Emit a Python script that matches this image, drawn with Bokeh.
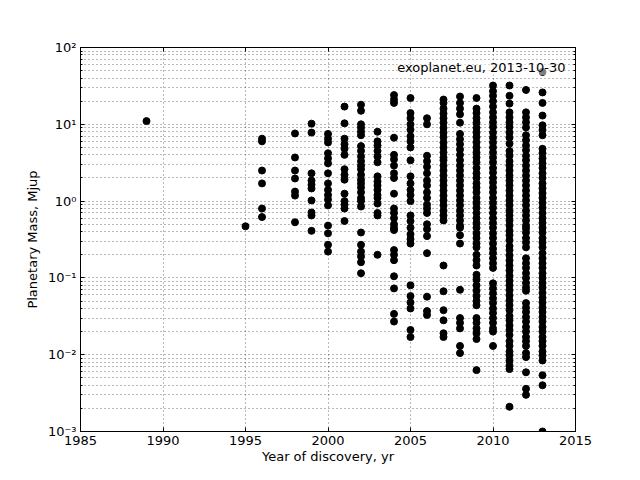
from bokeh.plotting import figure
from bokeh.models import Range1d, FixedTicker, LinearAxis, LogAxis, CustomJSTickFormatter, Label
from bokeh.embed import file_html
from bokeh.resources import INLINE

# --- data: planetary mass (Mjup) per discovery year ---
m1989 = [11]
m1995 = [0.47]
m1996 = [6.5, 6.0, 2.5, 1.7, 0.8, 0.62]
m1998 = [7.6, 3.7, 2.5, 1.97, 1.33, 1.18, 0.53]
m1999 = [10.2, 7.8, 2.3, 1.85, 1.64, 1.46, 1.02, 0.71, 0.65, 0.41]
m2000 = [7.5, 6.5, 5.8, 4.2, 3.6, 3.1, 2.3, 1.7, 1.4, 1.2, 1.05, 0.88, 0.48, 0.38, 0.27, 0.22]
m2001 = [17, 10.3, 6.5, 5.5, 4.8, 4.0, 2.6, 2.2, 1.9, 1.25, 1.0, 0.9, 0.8, 0.55]
m2002 = [18, 15, 10, 9, 8, 7.2, 5.2, 4.5, 3.8, 3.3, 2.9, 2.6, 2.2, 1.9, 1.7, 1.5, 1.3, 1.1, 1.0,
         0.85, 0.39, 0.27, 0.22, 0.19, 0.16, 0.115]
m2003 = [8, 6, 5.3, 4.5, 3.8, 3.2, 2.1, 1.8, 1.6, 1.4, 1.2, 1.1, 0.93, 0.7, 0.65, 0.2]
m2004 = [24, 21, 19, 6.7, 4.0, 3.5, 2.9, 2.3, 2.0, 1.25, 0.8, 0.7, 0.6, 0.5, 0.45, 0.42,
         0.23, 0.2, 0.17, 0.105, 0.073, 0.034, 0.027]
m2005 = [22, 14, 12, 10, 8.5, 7, 6, 5, 3.4, 2.1, 1.7, 1.4, 1.2, 1.0, 0.65, 0.55, 0.45, 0.37,
         0.32, 0.28, 0.08, 0.058, 0.048, 0.04, 0.021, 0.017]
m2006 = [12, 10, 3.9, 3.3, 2.8, 2.3, 1.85, 1.6, 1.3, 1.1, 0.9, 0.8, 0.7, 0.5, 0.43, 0.35,
         0.21, 0.057, 0.037, 0.033]
m2007 = [21, 19, 16, 13.8, 12, 10.5, 9, 7.8, 6.8, 5.8, 5, 4.3, 3.7, 3.4, 2.9, 2.5, 2.15,
         1.85, 1.6, 1.37, 1.18, 1.02, 0.88, 0.75, 0.65, 0.56, 0.145, 0.067, 0.038, 0.028,
         0.019, 0.017]
m2008 = [23, 19, 16, 13.5, 10.5, 7.5, 6.4, 5.5, 4.7, 4.0, 3.4, 2.9, 2.5, 2.15, 1.85, 1.6,
         1.37, 1.18, 1.02, 0.88, 0.75, 0.65, 0.56, 0.48, 0.45, 0.36, 0.28, 0.07, 0.03, 0.026,
         0.022, 0.013, 0.0105]
m2009 = [22, 16, 14, 12, 10.5, 9, 7.8, 6.8, 5.8, 5, 4.3, 3.7, 3.2, 2.7, 2.3, 2.0, 1.7, 1.5,
         1.3, 1.1, 0.95, 0.82, 0.7, 0.6, 0.52, 0.45, 0.38, 0.33, 0.28, 0.25, 0.2, 0.17, 0.145,
         0.11, 0.095, 0.08, 0.068, 0.058, 0.05, 0.044, 0.03, 0.026, 0.022, 0.019, 0.016, 0.0063]
m2010 = [32, 27, 23.5, 20, 17, 14.3, 12.3, 10.6, 9.2, 7.8, 6.7, 5.8, 5.0, 4.3, 3.7, 3.2, 2.7,
         2.35, 2.0, 1.75, 1.5, 1.3, 1.1, 0.95, 0.82, 0.7, 0.6, 0.52, 0.45, 0.38, 0.33, 0.28,
         0.24, 0.21, 0.18, 0.155, 0.135, 0.085, 0.073, 0.063, 0.054, 0.047, 0.04, 0.035, 0.03,
         0.026, 0.022, 0.02, 0.013]
m2011 = [32, 23.5, 18.6, 14.3, 12.3, 10.6, 9.2, 7.8, 6.7, 5.6, 4.5, 3.9, 3.3, 2.9, 2.5, 2.15,
         1.85, 1.6, 1.37, 1.18, 1.02, 0.88, 0.75, 0.65, 0.56, 0.48, 0.41, 0.36, 0.31, 0.26,
         0.23, 0.196, 0.169, 0.145, 0.125, 0.107, 0.092, 0.08, 0.069, 0.059, 0.051, 0.044,
         0.038, 0.032, 0.028, 0.024, 0.021, 0.018, 0.015, 0.013, 0.011, 0.0098, 0.0084,
         0.0072, 0.0065, 0.0021]
m2012 = [28, 14.3, 12.3, 10.6, 9.1, 7.2, 6.2, 5.3, 4.6, 3.9, 3.4, 2.9, 2.5, 2.15, 1.85, 1.6,
         1.37, 1.18, 1.02, 0.88, 0.75, 0.65, 0.56, 0.48, 0.44, 0.39, 0.33, 0.29, 0.25, 0.18,
         0.155, 0.135, 0.115, 0.1, 0.086, 0.075, 0.068, 0.047, 0.041, 0.036, 0.031, 0.027,
         0.023, 0.02, 0.017, 0.015, 0.013, 0.0105, 0.0093, 0.0059, 0.0036, 0.003]
m2013 = [48, 26, 19, 13, 9.7, 8.4, 7.2, 4.8, 4.2, 3.6, 3.1, 2.7, 2.3, 2.0, 1.7, 1.47, 1.27,
         1.1, 0.95, 0.82, 0.7, 0.6, 0.52, 0.45, 0.39, 0.33, 0.29, 0.25, 0.21, 0.18, 0.155,
         0.135, 0.115, 0.1, 0.086, 0.075, 0.064, 0.055, 0.048, 0.041, 0.036, 0.031, 0.027,
         0.023, 0.02, 0.017, 0.015, 0.013, 0.011, 0.0098, 0.0084, 0.0054, 0.004, 0.001]

years = [1989, 1995, 1996, 1998, 1999, 2000, 2001, 2002, 2003, 2004, 2005, 2006, 2007,
         2008, 2009, 2010, 2011, 2012, 2013]
masses = [m1989, m1995, m1996, m1998, m1999, m2000, m2001, m2002, m2003, m2004, m2005,
          m2006, m2007, m2008, m2009, m2010, m2011, m2012, m2013]

x_ticks = [1985, 1990, 1995, 2000, 2005, 2010, 2015]
y_ticks = [1e-3, 1e-2, 1e-1, 1e0, 1e1, 1e2]
y_minor = [k * t for t in y_ticks[:-1] for k in range(2, 10)]
source_text = "exoplanet.eu, 2013-10-30"

xs, ys = [], []
for yr, ms in zip(years, masses):
    xs.extend([yr] * len(ms))
    ys.extend(ms)

FONT = "DejaVu Sans"

p = figure(width=624, height=468, output_backend="svg", toolbar_location=None,
           y_axis_type="log", x_range=Range1d(1985, 2015), y_range=Range1d(1e-3, 1e2),
           x_axis_label="Year of discovery, yr", y_axis_label="Planetary Mass, Mjup")
p.min_border_left = 80
p.min_border_right = 49
p.min_border_top = 47
p.min_border_bottom = 37
p.background_fill_color = "white"
p.border_fill_color = "white"
p.outline_line_color = "black"
p.outline_line_width = 1

xt = FixedTicker(ticks=x_ticks)
yt = FixedTicker(ticks=y_ticks, minor_ticks=y_minor)
fmt = CustomJSTickFormatter(code="""
const e = Math.round(Math.log10(tick));
const sup = {'0':'\u2070','1':'\u00b9','2':'\u00b2','3':'\u00b3','-':'\u207b'};
return '10' + String(e).split('').map(c => sup[c]).join('');
""")

p.xaxis.ticker = xt
p.yaxis.ticker = yt
p.yaxis.formatter = fmt

for ax in [p.xaxis[0], p.yaxis[0]]:
    ax.major_tick_in = 4
    ax.major_tick_out = 0
    ax.minor_tick_in = 2
    ax.minor_tick_out = 0
    ax.axis_line_color = "black"
    ax.major_label_text_font = FONT
    ax.major_label_text_font_size = "13px"
    ax.major_label_text_color = "black"
    ax.axis_label_text_font = FONT
    ax.axis_label_text_font_size = "13px"
    ax.axis_label_text_font_style = "normal"
    ax.axis_label_text_color = "black"
p.xaxis.minor_tick_line_color = None
p.xaxis.major_label_standoff = 4
p.xaxis.axis_label_standoff = 1
p.yaxis.major_label_standoff = 4
p.yaxis.axis_label_standoff = 5

top = LinearAxis(ticker=xt, major_tick_in=4, major_tick_out=0, minor_tick_line_color=None,
                 major_label_text_color=None, axis_line_color="black")
right = LogAxis(ticker=yt, major_tick_in=4, major_tick_out=0, minor_tick_in=2, minor_tick_out=0,
                major_label_text_color=None, axis_line_color="black")
p.add_layout(top, "above")
p.add_layout(right, "right")

p.xgrid.ticker = xt
p.ygrid.ticker = yt
for g in [p.xgrid[0], p.ygrid[0]]:
    g.grid_line_color = "black"
    g.grid_line_alpha = 0.55
    g.grid_line_dash = "1 3"
    g.grid_line_width = 1
p.ygrid.minor_grid_line_color = "black"
p.ygrid.minor_grid_line_alpha = 0.55
p.ygrid.minor_grid_line_dash = "1 3"

p.scatter(xs, ys, size=7, marker="circle", fill_color="black", line_color="black")

lbl = Label(x=2014.4, y=55, text=source_text, text_align="right", text_baseline="middle",
            text_font=FONT, text_font_size="13px", text_color="black",
            background_fill_color="white", background_fill_alpha=0.5)
p.add_layout(lbl)

open("out.html", "w").write(file_html(p, INLINE))
